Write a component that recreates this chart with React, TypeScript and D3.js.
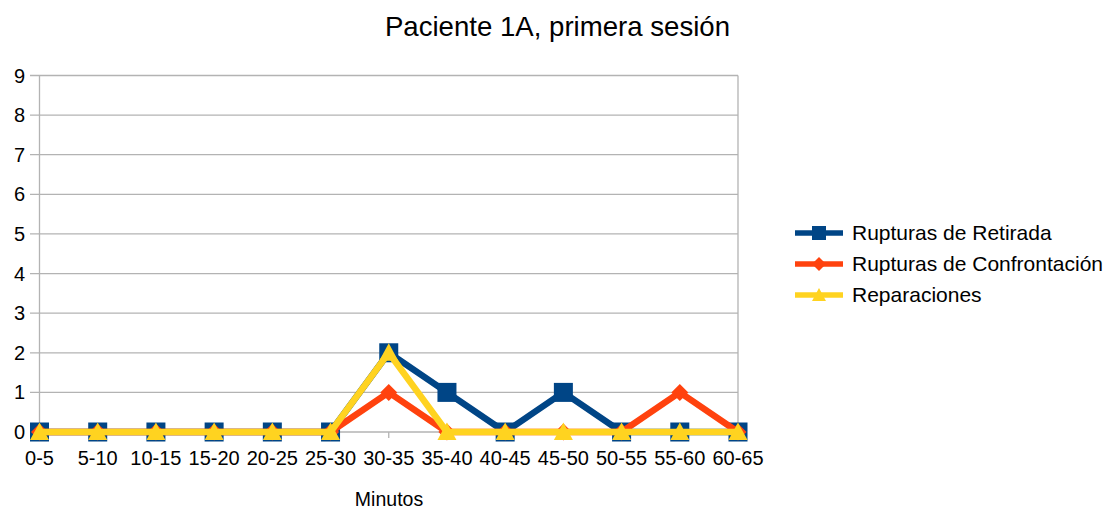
import React from "react";
import * as d3 from "d3";

const categories = ["0-5","5-10","10-15","15-20","20-25","25-30","30-35","35-40","40-45","45-50","50-55","55-60","60-65"];
const retirada = [0,0,0,0,0,0,2,1,0,1,0,0,0];
const confrontacion = [0,0,0,0,0,0,1,0,0,0,0,1,0];
const reparaciones = [0,0,0,0,0,0,2,0,0,0,0,0,0];
const yTicks = [0,1,2,3,4,5,6,7,8,9];
const seriesNames = ["Rupturas de Retirada","Rupturas de Confrontación","Reparaciones"];
const seriesColors = ["#004586","#ff420e","#ffd320"];

const W = 1110, H = 509;
const FONT = "'Liberation Sans', Arial, sans-serif";

function marker(kind: number, x: number, y: number, s: number, color: string, key: string) {
  if (kind === 0) {
    return <rect key={key} x={x - s / 2} y={y - s / 2} width={s} height={s} fill={color} />;
  }
  if (kind === 1) {
    const r = s / 2;
    return <path key={key} d={`M${x},${y - r}L${x + r},${y}L${x},${y + r}L${x - r},${y}Z`} fill={color} />;
  }
  const r = s / 2;
  return <path key={key} d={`M${x},${y - r}L${x + r},${y + r * 0.85}L${x - r},${y + r * 0.85}Z`} fill={color} />;
}

export default function App() {
  const x = d3.scalePoint<string>().domain(categories).range([39.5, 738]);
  const y = d3.scaleLinear().domain([0, 9]).range([432, 75.5]);
  const data = [retirada, confrontacion, reparaciones];
  const line = d3.line<number>().x((_, i) => x(categories[i])!).y((v) => y(v));
  const sizes = [19, 17, 19];
  return (
    <svg width={W} height={H} style={{ position: "absolute", left: 0, top: 0 }} fontFamily={FONT}>
      <rect width={W} height={H} fill="#fff" />
      <text x={557.5} y={36} textAnchor="middle" fontSize={27.6} fill="#000">Paciente 1A, primera sesión</text>
      {yTicks.map((t) => (
        <g key={t}>
          <line x1={30} x2={738} y1={y(t)} y2={y(t)} stroke="#b3b3b3" strokeWidth={1.3} />
          <text x={25} y={y(t) + 7} textAnchor="end" fontSize={20} fill="#000">{t}</text>
        </g>
      ))}
      <line x1={39.5} x2={39.5} y1={75.5} y2={432} stroke="#b3b3b3" strokeWidth={1.3} />
      <line x1={738} x2={738} y1={75.5} y2={432} stroke="#b3b3b3" strokeWidth={1.3} />
      {categories.map((c) => (
        <g key={c}>
          <line x1={x(c)} x2={x(c)} y1={432} y2={438} stroke="#b3b3b3" strokeWidth={1.3} />
          <text x={x(c)} y={465} textAnchor="middle" fontSize={20} fill="#000">{c}</text>
        </g>
      ))}
      <text x={389} y={506} textAnchor="middle" fontSize={19.5} fill="#000">Minutos</text>
      {data.map((d, si) => (
        <g key={si}>
          <path d={line(d)!} fill="none" stroke={seriesColors[si]} strokeWidth={6.5} strokeLinejoin="miter" />
          {d.map((v, i) => marker(si, x(categories[i])!, y(v), sizes[si], seriesColors[si], `${si}-${i}`))}
        </g>
      ))}
      {seriesNames.map((n, i) => {
        const ly = 233 + i * 31;
        return (
          <g key={n}>
            <line x1={795} x2={843} y1={ly} y2={ly} stroke={seriesColors[i]} strokeWidth={5.5} />
            {marker(i, 819, ly, 14, seriesColors[i], `l${i}`)}
            <text x={852} y={ly + 7} fontSize={21} fill="#000">{n}</text>
          </g>
        );
      })}
    </svg>
  );
}
